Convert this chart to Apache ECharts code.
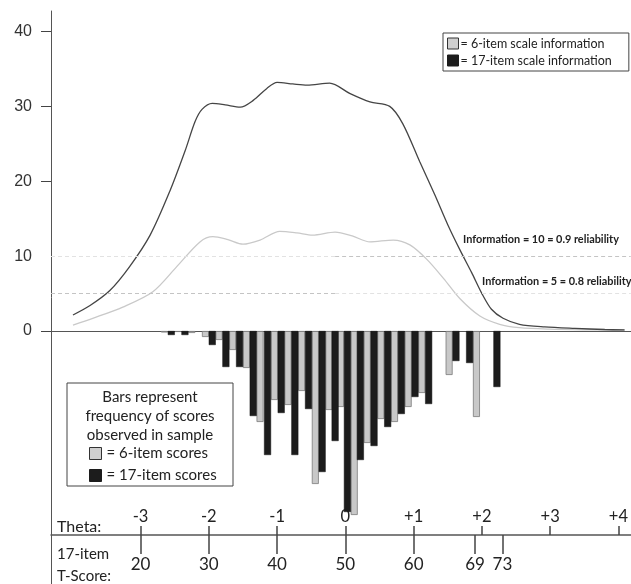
<!DOCTYPE html>
<html>
<head>
<meta charset="utf-8">
<script src="https://cdn.jsdelivr.net/npm/echarts@6/dist/echarts.min.js"></script>
<style>
html,body{margin:0;padding:0;background:#fff;}
#main{width:631px;height:584px;}
</style>
</head>
<body>
<div id="main"></div>
<script>
// ---- data ----
// Information curves (theta, information)
var theta17 = [-3.99,-3.74,-3.45,-3.16,-2.86,-2.57,-2.35,-2.20,-2.10,-1.95,-1.76,-1.54,-1.35,-1.15,-1.00,-0.77,-0.56,-0.23,0.07,0.36,0.65,0.84,1.09,1.31,1.50,1.68,1.85,2.00,2.14,2.31,2.55,2.92,3.36,3.80,4.09];
var info17  = [2.14,3.4,5.4,8.6,12.8,18.7,24.0,28.0,29.6,30.4,30.2,29.9,30.8,32.4,33.2,33.0,32.85,33.1,31.7,30.6,30.0,27.7,22.6,18.2,14.2,10.8,7.8,5.0,2.9,1.7,0.9,0.55,0.35,0.2,0.15];
var theta6  = [-3.99,-3.70,-3.26,-2.82,-2.47,-2.13,-1.94,-1.72,-1.50,-1.25,-0.96,-0.71,-0.48,-0.15,0.10,0.36,0.70,0.945,1.19,1.44,1.68,1.97,2.26,2.55,2.99,3.58,4.09];
var info6   = [0.8,1.7,3.2,5.25,8.6,11.9,12.6,12.2,11.6,12.15,13.3,13.1,12.8,13.2,12.7,11.9,12.15,11.5,9.6,7.0,4.3,2.0,0.9,0.45,0.25,0.15,0.1];
// Observed score frequencies (theta position of bin, frequency)
var barTheta6 = [-2.65,-2.45,-2.25,-2.05,-1.85,-1.65,-1.45,-1.25,-1.04,-0.84,-0.64,-0.44,-0.24,-0.07,0.13,0.32,0.52,0.72,0.92,1.12,1.52,1.92];
var barFreq6  = [1.5,1,2,6,9,19,37,91,69,74,60,153,79,76,184,112,88,91,76,62,44,86];
var barTheta17 = [-2.55,-2.35,-1.95,-1.75,-1.55,-1.35,-1.14,-0.94,-0.74,-0.54,-0.34,-0.15,0.03,0.22,0.42,0.62,0.82,1.02,1.22,1.62,1.82,2.22];
var barFreq17  = [4,4,14,36,36,85,124,82,124,78,141,110,181,129,115,96,83,66,73,30,32,56];
// Axis ticks
var infoTicks = [0,10,20,30,40];
var thetaTicks = [-3,-2,-1,0,1,2,3,4];
var thetaTickLabels = ['-3','-2','-1','0','+1','+2','+3','+4'];
var tScoreTheta = [-3,-2,-1,0,1,1.9,2.3];
var tScoreLabels = ['20','30','40','50','60','69','73'];

function zip(a,b){ return a.map(function(v,i){ return [v,b[i]]; }); }

var FONT = 'Lato';
var chart = echarts.init(document.getElementById('main'), null, {renderer:'canvas'});
var XMIN = -4.312, XMAX = 4.18;

var option = {
  animation: false,
  backgroundColor: '#fff',
  grid: {left: 51, right: 0, top: 11, bottom: 0},
  xAxis: [
    {type:'value', min:XMIN, max:XMAX, position:'top',
     axisLine:{show:true, lineStyle:{color:'#555', width:1}},
     axisTick:{show:false}, axisLabel:{show:false}, splitLine:{show:false}},
    {type:'value', min:XMIN, max:XMAX, position:'bottom', offset:-49,
     axisLine:{show:true, onZero:false, lineStyle:{color:'#555', width:1.5}},
     axisTick:{show:true, inside:true, length:9, customValues: thetaTicks, lineStyle:{color:'#444', width:1.5}},
     axisLabel:{show:true, inside:true, margin:10, customValues: thetaTicks,
       formatter:function(v){ var i = thetaTicks.indexOf(v); return i>=0 ? thetaTickLabels[i] : ''; },
       fontFamily:FONT, fontSize:16.5, color:'#222'},
     splitLine:{show:false}},
    {type:'value', min:XMIN, max:XMAX, position:'bottom', offset:-49,
     axisLine:{show:false, onZero:false},
     axisTick:{show:true, inside:false, length:19, customValues: tScoreTheta, lineStyle:{color:'#444', width:1.5}},
     axisLabel:{show:true, margin:21, customValues: tScoreTheta,
       formatter:function(v){ var i = tScoreTheta.indexOf(v); return i>=0 ? tScoreLabels[i] : ''; },
       fontFamily:FONT, fontSize:17, color:'#222'},
     splitLine:{show:false}}
  ],
  yAxis: [
    {type:'value', min:-33.79, max:42.74, position:'left',
     axisLine:{show:true, onZero:false, lineStyle:{color:'#555', width:1}},
     axisTick:{show:true, length:10, customValues:[0,20,30,40], lineStyle:{color:'#444'}},
     axisLabel:{show:true, margin:19, customValues: infoTicks,
       fontFamily:'Liberation Sans', fontSize:16, color:'#333'},
     splitLine:{show:false}},
    {type:'value', min:-320, max:253, inverse:true, show:false, splitLine:{show:false}}
  ],
  legend: [
    {orient:'vertical', left:443, top:33, padding:[4,17,4,4], itemGap:4,
     itemWidth:11, itemHeight:11, icon:'rect', selectedMode:false,
     borderColor:'#444', borderWidth:1, backgroundColor:'#fff',
     formatter:function(n){ return '= ' + n; },
     textStyle:{fontFamily:FONT, fontSize:12.5, color:'#222', padding:[0,0,0,-3]},
     data:[
       {name:'6-item scale information', itemStyle:{color:'#cfcfcf', borderColor:'#333', borderWidth:1}},
       {name:'17-item scale information', itemStyle:{color:'#1c1c1c', borderColor:'#1c1c1c', borderWidth:1}}
     ]},
    {orient:'vertical', left:89, top:446, padding:0, itemGap:7,
     itemWidth:12, itemHeight:12, icon:'rect', selectedMode:false,
     formatter:function(n){ return '= ' + n; },
     textStyle:{fontFamily:FONT, fontSize:15, color:'#222'},
     data:[
       {name:'6-item scores', itemStyle:{color:'#cfcfcf', borderColor:'#333', borderWidth:1}},
       {name:'17-item scores', itemStyle:{color:'#1c1c1c', borderColor:'#1c1c1c', borderWidth:1}}
     ]}
  ],
  series: [
    {name:'6-item scores', type:'bar', xAxisIndex:0, yAxisIndex:1, barWidth:7, barGap:'-100%',
     data: zip(barTheta6, barFreq6),
     itemStyle:{color:'#c8c8c8', borderColor:'#7a7a7a', borderWidth:0.8}, z:2},
    {name:'17-item scores', type:'bar', xAxisIndex:0, yAxisIndex:1, barWidth:7, barGap:'-100%',
     data: zip(barTheta17, barFreq17),
     itemStyle:{color:'#1c1c1c', borderColor:'#111', borderWidth:0.5}, z:2},
    {name:'6-item scale information', type:'line', xAxisIndex:0, yAxisIndex:0,
     data: zip(theta6, info6), smooth:0.3, symbol:'none',
     lineStyle:{color:'#c9c9c9', width:1.3}, itemStyle:{color:'#cfcfcf'}, z:3,
     markLine:{silent:true, symbol:'none', label:{show:false},
       data:[
         [{coord:[XMIN,10], lineStyle:{color:'#e2e2e2', type:[4,3], width:1}}, {coord:[-0.15,10]}],
         [{coord:[-0.15,10], lineStyle:{color:'#c4c4c4', type:[4,3], width:1}}, {coord:[XMAX,10]}],
         [{coord:[XMIN,5], lineStyle:{color:'#c4c4c4', type:[4,3], width:1}}, {coord:[-0.15,5]}],
         [{coord:[-0.15,5], lineStyle:{color:'#e2e2e2', type:[4,3], width:1}}, {coord:[XMAX,5]}]
       ]}},
    {name:'17-item scale information', type:'line', xAxisIndex:0, yAxisIndex:0,
     data: zip(theta17, info17), smooth:0.3, symbol:'none',
     lineStyle:{color:'#454545', width:1.3}, itemStyle:{color:'#1c1c1c'}, z:4}
  ],
  graphic: [
    {type:'rect', shape:{x:67, y:383, width:166, height:103}, style:{fill:'none', stroke:'#444', lineWidth:1}, z:1},
    {type:'text', x:150, y:397, style:{text:'Bars represent', fontFamily:FONT, fontSize:15, fill:'#222', align:'center', verticalAlign:'middle'}},
    {type:'text', x:150, y:416, style:{text:'frequency of scores', fontFamily:FONT, fontSize:15, fill:'#222', align:'center', verticalAlign:'middle'}},
    {type:'text', x:150, y:435, style:{text:'observed in sample', fontFamily:FONT, fontSize:15, fill:'#222', align:'center', verticalAlign:'middle'}},
    {type:'text', x:463, y:239, style:{text:'Information = 10 = 0.9 reliability', fontFamily:FONT, fontWeight:'bold', fontSize:10.9, fill:'#222', align:'left', verticalAlign:'middle'}},
    {type:'text', x:482, y:281, style:{text:'Information = 5 = 0.8 reliability', fontFamily:FONT, fontWeight:'bold', fontSize:10.9, fill:'#222', align:'left', verticalAlign:'middle'}},
    {type:'text', x:57, y:527, style:{text:'Theta:', fontFamily:FONT, fontSize:16, fill:'#222', align:'left', verticalAlign:'middle'}},
    {type:'text', x:57, y:554, style:{text:'17-item', fontFamily:FONT, fontSize:15, fill:'#222', align:'left', verticalAlign:'middle'}},
    {type:'text', x:57, y:576, style:{text:'T-Score:', fontFamily:FONT, fontSize:15, fill:'#222', align:'left', verticalAlign:'middle'}}
  ]
};
chart.setOption(option);
</script>
</body>
</html>
